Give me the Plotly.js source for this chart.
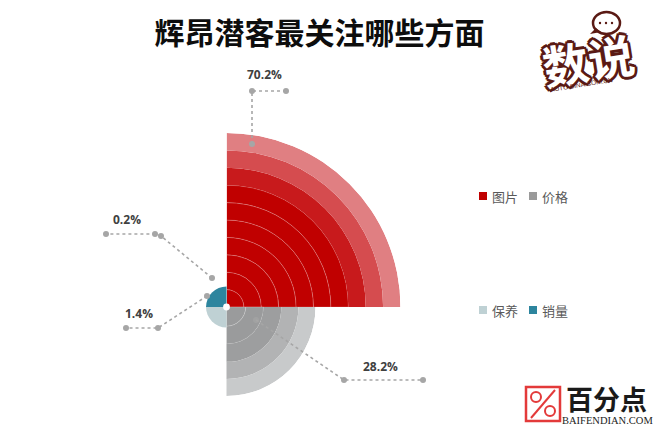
<!DOCTYPE html>
<html><head><meta charset="utf-8">
<script src="https://cdn.plot.ly/plotly-3.0.1.min.js"></script>
<style>html,body{margin:0;padding:0;background:#fff}</style></head>
<body><div id="chart" style="width:660px;height:440px"></div>
<script>
const titleText = '辉昂潜客最关注哪些方面';
const categories = ['图片','价格','保养','销量'];
const shareLabels = ['70.2%','28.2%','1.4%','0.2%'];
const redRings = [1,1,1,1,1,1,1,1,1,1];
const redColors = ['#c00000','#c00000','#c00000','#c00000','#c00000','#c00000','#c00000','#c81a1c','#d54c4f','#e07f82'];
const grayRings = [1.08,1,1,0.96,0.96];
const grayColors = ['#9a9b9c','#9a9b9c','#9d9e9f','#b2b3b4','#c8cacb'];
const careValue = [1.15];
const salesValue = [1.15];
const legendColors = ['#c00000','#9a9a9a','#bfd1d4','#2d859e'];

const F = '"Noto Sans CJK SC","Noto Sans",sans-serif';
const sep = 'rgba(255,255,255,0.3)';
const traces = [];
redRings.forEach((v,i)=>traces.push({type:'barpolar',subplot:'polar',r:[v],theta:[45],width:[90],
  name:categories[0],showlegend:false,marker:{color:redColors[i],line:{color:i<7?sep:redColors[i],width:i<7?0.6:0}}}));
grayRings.forEach((v,i)=>traces.push({type:'barpolar',subplot:'polar2',r:[v],theta:[315],width:[90],
  name:categories[1],showlegend:false,marker:{color:grayColors[i],line:{color:i<2?sep:grayColors[i],width:i<2?0.6:0}}}));
traces.push({type:'barpolar',subplot:'polar2',r:careValue,theta:[225],width:[90],name:categories[2],showlegend:false,marker:{color:legendColors[2],line:{width:0}}});
traces.push({type:'barpolar',subplot:'polar2',r:salesValue,theta:[135],width:[90],name:categories[3],showlegend:false,marker:{color:legendColors[3],line:{width:0}}});

const hiddenPolar = (range,sector,dom)=>({domain:dom,sector:sector,bgcolor:'rgba(0,0,0,0)',barmode:'stack',
  radialaxis:{visible:false,range:range,showgrid:false},
  angularaxis:{visible:false,showgrid:false,showline:false,showticklabels:false,ticks:''}});
const W=660,H=440, cx=226.5, cy=307;
const px=x=>x/W, py=y=>1-y/H;

const shapes=[], annotations=[];
const leaders=[
 [[252,144],[252,91],[286,91]],
 [[256,320],[344,380],[423,380]],
 [[207,296],[158,328],[126,328]],
 [[212,278],[161,236],[155,234],[106,234]]
];
const leaderDots=[
 [[252,144],[252,91],[286,91]],
 [[256,320],[344,380],[423,380]],
 [[207,296],[158,328],[126,328]],
 [[212,278],[161,236],[155,234],[106,234]]
];
leaders.forEach(l=>{
  shapes.push({type:'path',xref:'paper',yref:'paper',layer:'above',
    path:'M'+l.map(p=>px(p[0])+','+py(p[1])).join('L'),line:{color:'#a6a6a6',width:1.6,dash:'dot'}});
});
const circle=(x,y,rx,col,line)=>shapes.push({type:'circle',xref:'paper',yref:'paper',layer:'above',
  x0:px(x-rx),x1:px(x+rx),y0:py(y+rx),y1:py(y-rx),fillcolor:col,line:line||{width:0}});
leaderDots.forEach(l=>l.forEach((p,i)=>circle(p[0],p[1],3,'rgba(166,166,166,'+(i==0&&l===leaderDots[1]?0.6:1)+')')));
circle(cx,cy,3.4,'#ffffff');

const txt=(t,x,y,size,col,extra)=>annotations.push(Object.assign({xref:'paper',yref:'paper',x:px(x),y:py(y),
  text:t,showarrow:false,xanchor:'center',yanchor:'middle',font:{family:F,size:size,color:col}},extra||{}));
const labelPos=[[264,74],[380,366],[139,313],[127,219]];
shareLabels.forEach((t,i)=>txt('<b>'+t+'</b>',labelPos[i][0],labelPos[i][1],12,'#404040',{font:{family:'"Open Sans",'+F,size:12,color:'#404040'}}));

const legendPos=[[480,196],[530,196],[480,310],[530,310]];
categories.forEach((c,i)=>{
  const [x,y]=legendPos[i];
  shapes.push({type:'rect',xref:'paper',yref:'paper',x0:px(x-1),x1:px(x+7),y0:py(y+4),y1:py(y-4),fillcolor:legendColors[i],line:{width:0}});
  txt(c,x+10,y,13,'#595959',{xanchor:'left'});
});

/* 百分点 logo */
shapes.push({type:'rect',xref:'paper',yref:'paper',x0:px(526),x1:px(560),y0:py(421),y1:py(387),fillcolor:'rgba(0,0,0,0)',line:{color:'#e33a3a',width:2.5}});
shapes.push({type:'circle',xref:'paper',yref:'paper',x0:px(531),x1:px(541),y0:py(402),y1:py(392),fillcolor:'rgba(0,0,0,0)',line:{color:'#e33a3a',width:2}});
shapes.push({type:'circle',xref:'paper',yref:'paper',x0:px(545),x1:px(555),y0:py(416),y1:py(406),fillcolor:'rgba(0,0,0,0)',line:{color:'#e33a3a',width:2}});
shapes.push({type:'line',xref:'paper',yref:'paper',x0:px(531),x1:px(555),y0:py(418),y1:py(390),line:{color:'#e33a3a',width:2}});
txt('<b>百分点</b>',606,398,27,'#1a1a1a');
txt('BAIFENDIAN.COM',607,420,10.5,'#222222',{font:{family:'"Liberation Serif",serif',size:10.5,color:'#222'}});

/* 数说 logo */
shapes.push({type:'circle',xref:'paper',yref:'paper',x0:px(593),x1:px(620),y0:py(34),y1:py(12),fillcolor:'#ffffff',line:{color:'#5a1a14',width:2.5}});
shapes.push({type:'path',xref:'paper',yref:'paper',path:`M${px(596)},${py(28)}L${px(590)},${py(34)}L${px(601)},${py(32)}Z`,fillcolor:'#5a1a14',line:{width:0}});
[600,606,612].forEach(x=>circle(x,23,1.2,'#5a1a14'));
const outline='2px 2px 0 #5a1a14,-2px -2px 0 #5a1a14,2px -2px 0 #5a1a14,-2px 2px 0 #5a1a14,3px 0 0 #5a1a14,-3px 0 0 #5a1a14,0 3px 0 #5a1a14,0 -3px 0 #5a1a14';
txt('<b>数说</b>',588,59,46,'#ffffff',{textangle:-9,font:{family:F,size:46,color:'#ffffff',shadow:outline}});
txt('AUTO.SINA.COM.CN',581,85,6.5,'#5a1a14',{textangle:-9,font:{family:'"Liberation Sans",sans-serif',size:6.5,color:'#5a1a14'}});

const layout={width:W,height:H,margin:{l:0,r:0,t:0,b:0},paper_bgcolor:'#fff',showlegend:false,
  title:{text:'<b>'+titleText+'</b>',x:px(319.5),xanchor:'center',y:py(33),yanchor:'middle',font:{family:F,size:30,color:'#0d0d0d'}},
  polar:hiddenPolar([0,10],[0,90],{x:[px(cx),px(cx+174)],y:[py(cy),py(cy-174)]}),
  polar2:hiddenPolar([0,5],[0,360],{x:[px(cx-89),px(cx+89)],y:[py(cy+89),py(cy-89)]}),
  shapes:shapes,annotations:annotations};
Plotly.newPlot('chart',traces,layout,{displayModeBar:false,staticPlot:true});
</script></body></html>
